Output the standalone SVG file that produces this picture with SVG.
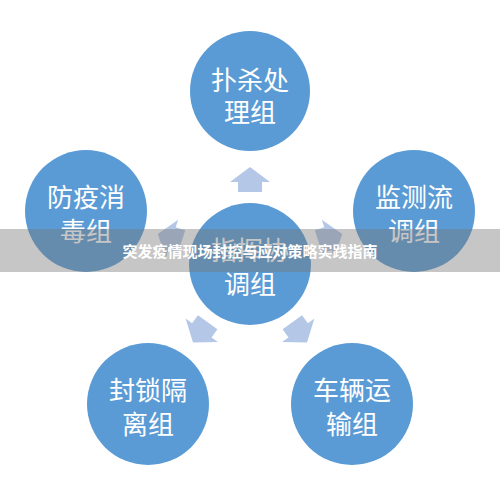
<svg xmlns="http://www.w3.org/2000/svg" width="500" height="500" viewBox="0 0 500 500">
<style>
.node{fill:#5b9bd5}
.lbl{fill:#ffffff;font-family:"Noto Sans CJK SC","Noto Sans",sans-serif;font-size:26px;text-anchor:middle;dominant-baseline:central}
.arr{fill:#b4c7e7}
.title{fill:#ffffff;font-family:"Noto Sans CJK SC","Noto Sans",sans-serif;font-size:15px;font-weight:bold;text-anchor:middle;dominant-baseline:central}
</style>
<defs>
<path id="arrow" d="M250,167 L270,182 L262,182 L262,192 L238,192 L238,182 L230,182 Z"/>
</defs>
<rect width="500" height="500" fill="#ffffff"/>
<g id="connectors">
<use href="#arrow" class="arr"/>
<use href="#arrow" class="arr" transform="rotate(72 250 264)"/>
<use href="#arrow" class="arr" transform="rotate(144 250 264)"/>
<use href="#arrow" class="arr" transform="rotate(216 250 264)"/>
<use href="#arrow" class="arr" transform="rotate(288 250 264)"/>
</g>
<g id="node-top">
<circle class="node" cx="250" cy="91" r="60"/>
<text class="lbl" x="250" y="78">扑杀处</text>
<text class="lbl" x="250" y="110">理组</text>
</g>
<g id="node-right">
<circle class="node" cx="414" cy="211" r="61"/>
<text class="lbl" x="414" y="195">监测流</text>
<text class="lbl" x="414" y="229">调组</text>
</g>
<g id="node-bottom-right">
<circle class="node" cx="352" cy="404" r="61"/>
<text class="lbl" x="352" y="388">车辆运</text>
<text class="lbl" x="352" y="422">输组</text>
</g>
<g id="node-bottom-left">
<circle class="node" cx="148" cy="404" r="61"/>
<text class="lbl" x="148" y="388">封锁隔</text>
<text class="lbl" x="148" y="422">离组</text>
</g>
<g id="node-left">
<circle class="node" cx="86" cy="211" r="61"/>
<text class="lbl" x="86" y="195">防疫消</text>
<text class="lbl" x="86" y="229">毒组</text>
</g>
<g id="node-center">
<circle class="node" cx="250" cy="264" r="61"/>
<text class="lbl" x="250" y="248">指挥协</text>
<text class="lbl" x="250" y="282">调组</text>
</g>
<g id="banner">
<rect x="0" y="229" width="500" height="43" fill="#787878" fill-opacity="0.42"/>
<text class="title" x="250" y="250">突发疫情现场封控与应对策略实践指南</text>
</g>
</svg>
